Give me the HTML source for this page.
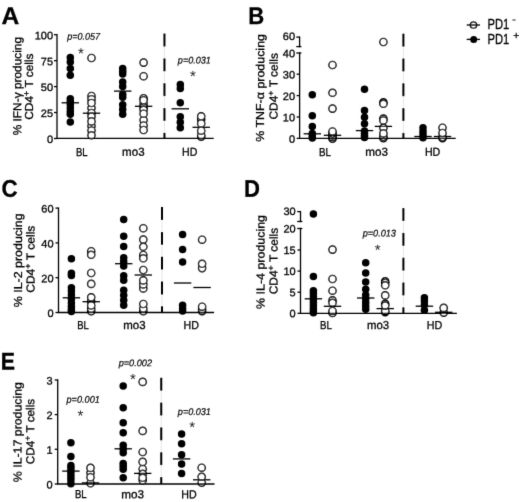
<!DOCTYPE html>
<html><head><meta charset="utf-8"><title>Figure</title>
<style>
html,body{margin:0;padding:0;background:#fff;}
svg{display:block;font-family:"Liberation Sans", sans-serif;fill:#000;}
</style></head><body>
<svg width="520" height="502" viewBox="0 0 520 502">
<defs><filter id="soft" x="0" y="0" width="520" height="502" filterUnits="userSpaceOnUse"><feConvolveMatrix order="3" kernelMatrix="1 8 1 8 64 8 1 8 1" divisor="100" edgeMode="duplicate" preserveAlpha="false"/></filter></defs>
<rect width="520" height="502" fill="#fff"/>
<g filter="url(#soft)">
<line x1="164.45" y1="33.60" x2="164.45" y2="138.40" stroke="#ccc" stroke-width="0.5" />
<line x1="164.45" y1="33.60" x2="164.45" y2="46.50" stroke="#000" stroke-width="2.0" />
<line x1="164.45" y1="58.40" x2="164.45" y2="71.30" stroke="#000" stroke-width="2.0" />
<line x1="164.45" y1="83.20" x2="164.45" y2="96.10" stroke="#000" stroke-width="2.0" />
<line x1="164.45" y1="108.00" x2="164.45" y2="120.90" stroke="#000" stroke-width="2.0" />
<line x1="164.45" y1="132.80" x2="164.45" y2="138.40" stroke="#000" stroke-width="2.0" />
<circle cx="70.30" cy="57.40" r="3.75" fill="#000"/>
<circle cx="70.30" cy="62.00" r="3.75" fill="#000"/>
<circle cx="70.30" cy="68.40" r="3.75" fill="#000"/>
<circle cx="70.30" cy="75.20" r="3.75" fill="#000"/>
<circle cx="70.30" cy="98.70" r="3.75" fill="#000"/>
<circle cx="70.30" cy="101.50" r="3.75" fill="#000"/>
<circle cx="70.30" cy="104.50" r="3.75" fill="#000"/>
<circle cx="70.30" cy="108.00" r="3.75" fill="#000"/>
<circle cx="70.30" cy="111.50" r="3.75" fill="#000"/>
<circle cx="70.30" cy="114.20" r="3.75" fill="#000"/>
<circle cx="70.30" cy="122.00" r="3.75" fill="#000"/>
<circle cx="91.50" cy="58.00" r="3.6" fill="#fff" stroke="#000" stroke-width="1.4"/>
<circle cx="91.50" cy="96.00" r="3.6" fill="#fff" stroke="#000" stroke-width="1.4"/>
<circle cx="91.50" cy="99.20" r="3.6" fill="#fff" stroke="#000" stroke-width="1.4"/>
<circle cx="91.50" cy="108.00" r="3.6" fill="#fff" stroke="#000" stroke-width="1.4"/>
<circle cx="91.50" cy="113.00" r="3.6" fill="#fff" stroke="#000" stroke-width="1.4"/>
<circle cx="91.50" cy="116.60" r="3.6" fill="#fff" stroke="#000" stroke-width="1.4"/>
<circle cx="91.50" cy="126.00" r="3.6" fill="#fff" stroke="#000" stroke-width="1.4"/>
<circle cx="91.50" cy="130.50" r="3.6" fill="#fff" stroke="#000" stroke-width="1.4"/>
<circle cx="91.50" cy="103.00" r="3.6" fill="#fff" stroke="#000" stroke-width="1.4"/>
<circle cx="91.50" cy="121.40" r="3.6" fill="#fff" stroke="#000" stroke-width="1.4"/>
<circle cx="91.50" cy="135.30" r="3.6" fill="#fff" stroke="#000" stroke-width="1.4"/>
<circle cx="122.70" cy="68.40" r="3.75" fill="#000"/>
<circle cx="122.70" cy="71.30" r="3.75" fill="#000"/>
<circle cx="122.70" cy="74.10" r="3.75" fill="#000"/>
<circle cx="122.70" cy="81.90" r="3.75" fill="#000"/>
<circle cx="122.70" cy="86.40" r="3.75" fill="#000"/>
<circle cx="122.70" cy="94.30" r="3.75" fill="#000"/>
<circle cx="122.70" cy="97.20" r="3.75" fill="#000"/>
<circle cx="122.70" cy="104.80" r="3.75" fill="#000"/>
<circle cx="122.70" cy="109.50" r="3.75" fill="#000"/>
<circle cx="122.70" cy="114.30" r="3.75" fill="#000"/>
<circle cx="143.60" cy="62.60" r="3.6" fill="#fff" stroke="#000" stroke-width="1.4"/>
<circle cx="143.60" cy="76.20" r="3.6" fill="#fff" stroke="#000" stroke-width="1.4"/>
<circle cx="143.60" cy="98.20" r="3.6" fill="#fff" stroke="#000" stroke-width="1.4"/>
<circle cx="143.60" cy="104.00" r="3.6" fill="#fff" stroke="#000" stroke-width="1.4"/>
<circle cx="143.60" cy="107.20" r="3.6" fill="#fff" stroke="#000" stroke-width="1.4"/>
<circle cx="143.60" cy="109.80" r="3.6" fill="#fff" stroke="#000" stroke-width="1.4"/>
<circle cx="143.60" cy="120.10" r="3.6" fill="#fff" stroke="#000" stroke-width="1.4"/>
<circle cx="143.60" cy="125.50" r="3.6" fill="#fff" stroke="#000" stroke-width="1.4"/>
<circle cx="143.60" cy="100.20" r="3.6" fill="#fff" stroke="#000" stroke-width="1.4"/>
<circle cx="143.60" cy="113.70" r="3.6" fill="#fff" stroke="#000" stroke-width="1.4"/>
<circle cx="143.60" cy="130.00" r="3.6" fill="#fff" stroke="#000" stroke-width="1.4"/>
<circle cx="180.30" cy="84.40" r="3.75" fill="#000"/>
<circle cx="180.30" cy="88.50" r="3.75" fill="#000"/>
<circle cx="180.30" cy="102.70" r="3.75" fill="#000"/>
<circle cx="180.30" cy="116.80" r="3.75" fill="#000"/>
<circle cx="180.30" cy="122.20" r="3.75" fill="#000"/>
<circle cx="180.30" cy="127.80" r="3.75" fill="#000"/>
<circle cx="201.20" cy="136.80" r="3.6" fill="#fff" stroke="#000" stroke-width="1.4"/>
<circle cx="201.20" cy="135.20" r="3.6" fill="#fff" stroke="#000" stroke-width="1.4"/>
<circle cx="201.20" cy="119.60" r="3.6" fill="#fff" stroke="#000" stroke-width="1.4"/>
<circle cx="201.20" cy="116.30" r="3.6" fill="#fff" stroke="#000" stroke-width="1.4"/>
<circle cx="201.20" cy="130.70" r="3.6" fill="#fff" stroke="#000" stroke-width="1.4"/>
<circle cx="201.20" cy="123.50" r="3.6" fill="#fff" stroke="#000" stroke-width="1.4"/>
<line x1="56.35" y1="138.40" x2="213.70" y2="138.40" stroke="#000" stroke-width="1.3" />
<line x1="57.00" y1="34.05" x2="57.00" y2="138.40" stroke="#000" stroke-width="1.3" />
<line x1="54.00" y1="138.50" x2="57.00" y2="138.50" stroke="#000" stroke-width="1.3" />
<text transform="translate(46.99,143.00) rotate(0.03) scale(1.0200,1)" font-size="10.8" stroke="#000" stroke-width="0.3">0</text>
<line x1="54.00" y1="112.55" x2="57.00" y2="112.55" stroke="#000" stroke-width="1.3" />
<text transform="translate(40.87,117.05) rotate(0.03) scale(1.0200,1)" font-size="10.8" stroke="#000" stroke-width="0.3">25</text>
<line x1="54.00" y1="86.60" x2="57.00" y2="86.60" stroke="#000" stroke-width="1.3" />
<text transform="translate(40.87,91.10) rotate(0.03) scale(1.0200,1)" font-size="10.8" stroke="#000" stroke-width="0.3">50</text>
<line x1="54.00" y1="60.65" x2="57.00" y2="60.65" stroke="#000" stroke-width="1.3" />
<text transform="translate(40.87,65.15) rotate(0.03) scale(1.0200,1)" font-size="10.8" stroke="#000" stroke-width="0.3">75</text>
<line x1="54.00" y1="34.70" x2="57.00" y2="34.70" stroke="#000" stroke-width="1.3" />
<text transform="translate(34.70,39.20) rotate(0.03) scale(1.0200,1)" font-size="10.8" stroke="#000" stroke-width="0.3">100</text>
<line x1="61.60" y1="102.80" x2="79.00" y2="102.80" stroke="#000" stroke-width="1.3" />
<line x1="82.80" y1="113.20" x2="100.20" y2="113.20" stroke="#000" stroke-width="1.3" />
<line x1="114.00" y1="91.10" x2="131.40" y2="91.10" stroke="#000" stroke-width="1.3" />
<line x1="134.90" y1="106.30" x2="152.30" y2="106.30" stroke="#000" stroke-width="1.3" />
<line x1="171.60" y1="108.80" x2="189.00" y2="108.80" stroke="#000" stroke-width="1.3" />
<line x1="192.50" y1="127.30" x2="209.90" y2="127.30" stroke="#000" stroke-width="1.3" />
<text transform="translate(76.00,155.80) rotate(0.03) scale(0.8234,1)" font-size="11.6" stroke="#000" stroke-width="0.3">BL</text>
<text transform="translate(122.10,155.80) rotate(0.03) scale(0.9973,1)" font-size="11.6" stroke="#000" stroke-width="0.3">mo3</text>
<text transform="translate(182.10,155.80) rotate(0.03) scale(0.9128,1)" font-size="11.6" stroke="#000" stroke-width="0.3">HD</text>
<text transform="translate(67.13,39.80) rotate(0.03) scale(0.9211,1)" font-size="9.8" font-style="italic" stroke="#000" stroke-width="0.2">p=0.057</text>
<text transform="translate(177.83,63.50) rotate(0.03) scale(0.9287,1)" font-size="9.8" font-style="italic" stroke="#000" stroke-width="0.2">p=0.031</text>
<text transform="translate(77.91,58.56) rotate(0.03)" font-size="15.0" fill="#222">*</text>
<text transform="translate(190.11,81.36) rotate(0.03)" font-size="15.0" fill="#222">*</text>
<text transform="translate(1.40,24.00) rotate(0.03) scale(1.0243,1)" font-size="24" font-weight="bold" stroke="#000" stroke-width="0.3">A</text>
<g transform="translate(21.30,135.30) rotate(-89.97) scale(1.0255,1)"><text x="0.00" y="0.00" font-size="11.6" stroke="#000" stroke-width="0.3">% IFN-γ producing</text></g>
<g transform="translate(33.00,119.70) rotate(-89.97) scale(1.0236,1)"><text x="0.00" y="0.00" font-size="11.6" stroke="#000" stroke-width="0.3">CD4</text><text x="23.21" y="-3.80" font-size="8.5" stroke="#000" stroke-width="0.3">+</text><text x="31.39" y="0.00" font-size="11.6" stroke="#000" stroke-width="0.3">T cells</text></g>
<line x1="403.40" y1="33.70" x2="403.40" y2="138.40" stroke="#ccc" stroke-width="0.5" />
<line x1="403.40" y1="33.70" x2="403.40" y2="46.60" stroke="#000" stroke-width="2.0" />
<line x1="403.40" y1="58.50" x2="403.40" y2="71.40" stroke="#000" stroke-width="2.0" />
<line x1="403.40" y1="83.30" x2="403.40" y2="96.20" stroke="#000" stroke-width="2.0" />
<line x1="403.40" y1="108.10" x2="403.40" y2="121.00" stroke="#000" stroke-width="2.0" />
<line x1="403.40" y1="132.90" x2="403.40" y2="138.40" stroke="#000" stroke-width="2.0" />
<circle cx="312.30" cy="94.80" r="3.75" fill="#000"/>
<circle cx="312.30" cy="115.70" r="3.75" fill="#000"/>
<circle cx="312.30" cy="126.60" r="3.75" fill="#000"/>
<circle cx="312.30" cy="133.40" r="3.75" fill="#000"/>
<circle cx="312.30" cy="135.80" r="3.75" fill="#000"/>
<circle cx="312.30" cy="138.00" r="3.75" fill="#000"/>
<circle cx="332.50" cy="65.00" r="3.6" fill="#fff" stroke="#000" stroke-width="1.4"/>
<circle cx="332.50" cy="92.80" r="3.6" fill="#fff" stroke="#000" stroke-width="1.4"/>
<circle cx="332.50" cy="108.60" r="3.6" fill="#fff" stroke="#000" stroke-width="1.4"/>
<circle cx="332.50" cy="138.80" r="3.6" fill="#fff" stroke="#000" stroke-width="1.4"/>
<circle cx="332.50" cy="137.30" r="3.6" fill="#fff" stroke="#000" stroke-width="1.4"/>
<circle cx="332.50" cy="135.50" r="3.6" fill="#fff" stroke="#000" stroke-width="1.4"/>
<circle cx="332.50" cy="133.50" r="3.6" fill="#fff" stroke="#000" stroke-width="1.4"/>
<circle cx="332.50" cy="131.50" r="3.6" fill="#fff" stroke="#000" stroke-width="1.4"/>
<circle cx="364.50" cy="89.30" r="3.75" fill="#000"/>
<circle cx="364.50" cy="110.50" r="3.75" fill="#000"/>
<circle cx="364.50" cy="117.20" r="3.75" fill="#000"/>
<circle cx="364.50" cy="123.70" r="3.75" fill="#000"/>
<circle cx="364.50" cy="131.10" r="3.75" fill="#000"/>
<circle cx="364.50" cy="133.50" r="3.75" fill="#000"/>
<circle cx="364.50" cy="135.80" r="3.75" fill="#000"/>
<circle cx="364.50" cy="137.60" r="3.75" fill="#000"/>
<circle cx="383.40" cy="42.00" r="3.6" fill="#fff" stroke="#000" stroke-width="1.4"/>
<circle cx="383.40" cy="102.30" r="3.6" fill="#fff" stroke="#000" stroke-width="1.4"/>
<circle cx="383.40" cy="103.80" r="3.6" fill="#fff" stroke="#000" stroke-width="1.4"/>
<circle cx="383.40" cy="118.60" r="3.6" fill="#fff" stroke="#000" stroke-width="1.4"/>
<circle cx="383.40" cy="120.50" r="3.6" fill="#fff" stroke="#000" stroke-width="1.4"/>
<circle cx="383.40" cy="138.30" r="3.6" fill="#fff" stroke="#000" stroke-width="1.4"/>
<circle cx="383.40" cy="136.80" r="3.6" fill="#fff" stroke="#000" stroke-width="1.4"/>
<circle cx="383.40" cy="127.90" r="3.6" fill="#fff" stroke="#000" stroke-width="1.4"/>
<circle cx="383.40" cy="133.40" r="3.6" fill="#fff" stroke="#000" stroke-width="1.4"/>
<circle cx="423.00" cy="127.80" r="3.75" fill="#000"/>
<circle cx="423.00" cy="131.50" r="3.75" fill="#000"/>
<circle cx="423.00" cy="134.80" r="3.75" fill="#000"/>
<circle cx="423.00" cy="137.70" r="3.75" fill="#000"/>
<circle cx="442.50" cy="127.70" r="3.6" fill="#fff" stroke="#000" stroke-width="1.4"/>
<circle cx="442.50" cy="138.30" r="3.6" fill="#fff" stroke="#000" stroke-width="1.4"/>
<circle cx="442.50" cy="137.00" r="3.6" fill="#fff" stroke="#000" stroke-width="1.4"/>
<circle cx="442.50" cy="133.00" r="3.6" fill="#fff" stroke="#000" stroke-width="1.4"/>
<line x1="298.95" y1="138.40" x2="455.70" y2="138.40" stroke="#000" stroke-width="1.3" />
<line x1="299.60" y1="36.45" x2="299.60" y2="47.25" stroke="#000" stroke-width="1.3" />
<line x1="296.30" y1="37.10" x2="299.60" y2="37.10" stroke="#000" stroke-width="1.3" />
<line x1="296.30" y1="46.60" x2="301.40" y2="46.60" stroke="#000" stroke-width="1.3" />
<line x1="299.60" y1="52.35" x2="299.60" y2="138.40" stroke="#000" stroke-width="1.3" />
<line x1="296.60" y1="138.40" x2="299.60" y2="138.40" stroke="#000" stroke-width="1.3" />
<text transform="translate(288.99,142.70) rotate(0.03) scale(1.0200,1)" font-size="10.8" stroke="#000" stroke-width="0.3">0</text>
<line x1="296.60" y1="117.00" x2="299.60" y2="117.00" stroke="#000" stroke-width="1.3" />
<text transform="translate(282.87,121.30) rotate(0.03) scale(1.0200,1)" font-size="10.8" stroke="#000" stroke-width="0.3">10</text>
<line x1="296.60" y1="95.60" x2="299.60" y2="95.60" stroke="#000" stroke-width="1.3" />
<text transform="translate(282.87,99.90) rotate(0.03) scale(1.0200,1)" font-size="10.8" stroke="#000" stroke-width="0.3">20</text>
<line x1="296.60" y1="74.20" x2="299.60" y2="74.20" stroke="#000" stroke-width="1.3" />
<text transform="translate(282.87,78.50) rotate(0.03) scale(1.0200,1)" font-size="10.8" stroke="#000" stroke-width="0.3">30</text>
<line x1="296.30" y1="53.00" x2="301.40" y2="53.00" stroke="#000" stroke-width="1.3" />
<text transform="translate(282.87,57.30) rotate(0.03) scale(1.0200,1)" font-size="10.8" stroke="#000" stroke-width="0.3">40</text>
<text transform="translate(282.87,40.10) rotate(0.03) scale(1.0200,1)" font-size="10.8" stroke="#000" stroke-width="0.3">60</text>
<line x1="303.60" y1="133.80" x2="321.00" y2="133.80" stroke="#000" stroke-width="1.3" />
<line x1="323.80" y1="135.30" x2="341.20" y2="135.30" stroke="#000" stroke-width="1.3" />
<line x1="355.80" y1="130.60" x2="373.20" y2="130.60" stroke="#000" stroke-width="1.3" />
<line x1="374.70" y1="126.40" x2="392.10" y2="126.40" stroke="#000" stroke-width="1.3" />
<line x1="414.30" y1="136.50" x2="431.70" y2="136.50" stroke="#000" stroke-width="1.3" />
<line x1="433.80" y1="136.50" x2="451.20" y2="136.50" stroke="#000" stroke-width="1.3" />
<text transform="translate(319.00,155.80) rotate(0.03) scale(0.8445,1)" font-size="11.6" stroke="#000" stroke-width="0.3">BL</text>
<text transform="translate(365.20,155.80) rotate(0.03) scale(1.0061,1)" font-size="11.6" stroke="#000" stroke-width="0.3">mo3</text>
<text transform="translate(424.90,155.80) rotate(0.03) scale(0.9187,1)" font-size="11.6" stroke="#000" stroke-width="0.3">HD</text>
<text transform="translate(248.30,24.00) rotate(0.03) scale(0.9201,1)" font-size="24" font-weight="bold" stroke="#000" stroke-width="0.3">B</text>
<g transform="translate(264.10,141.80) rotate(-89.97) scale(1.0713,1)"><text x="0.00" y="0.00" font-size="11.6" stroke="#000" stroke-width="0.3">% TNF-α producing</text></g>
<g transform="translate(277.60,119.50) rotate(-89.97) scale(1.0267,1)"><text x="0.00" y="0.00" font-size="11.6" stroke="#000" stroke-width="0.3">CD4</text><text x="23.21" y="-3.80" font-size="8.5" stroke="#000" stroke-width="0.3">+</text><text x="31.39" y="0.00" font-size="11.6" stroke="#000" stroke-width="0.3">T cells</text></g>
<line x1="162.00" y1="207.10" x2="162.00" y2="312.50" stroke="#ccc" stroke-width="0.5" />
<line x1="162.00" y1="207.10" x2="162.00" y2="220.00" stroke="#000" stroke-width="2.0" />
<line x1="162.00" y1="231.90" x2="162.00" y2="244.80" stroke="#000" stroke-width="2.0" />
<line x1="162.00" y1="256.70" x2="162.00" y2="269.60" stroke="#000" stroke-width="2.0" />
<line x1="162.00" y1="281.50" x2="162.00" y2="294.40" stroke="#000" stroke-width="2.0" />
<line x1="162.00" y1="306.30" x2="162.00" y2="312.50" stroke="#000" stroke-width="2.0" />
<circle cx="71.40" cy="258.80" r="3.75" fill="#000"/>
<circle cx="71.40" cy="273.20" r="3.75" fill="#000"/>
<circle cx="71.40" cy="275.50" r="3.75" fill="#000"/>
<circle cx="71.40" cy="287.80" r="3.75" fill="#000"/>
<circle cx="71.40" cy="291.00" r="3.75" fill="#000"/>
<circle cx="71.40" cy="295.00" r="3.75" fill="#000"/>
<circle cx="71.40" cy="299.00" r="3.75" fill="#000"/>
<circle cx="71.40" cy="303.00" r="3.75" fill="#000"/>
<circle cx="71.40" cy="306.50" r="3.75" fill="#000"/>
<circle cx="71.40" cy="309.40" r="3.75" fill="#000"/>
<circle cx="71.40" cy="311.60" r="3.75" fill="#000"/>
<circle cx="91.20" cy="251.20" r="3.6" fill="#fff" stroke="#000" stroke-width="1.4"/>
<circle cx="91.20" cy="254.80" r="3.6" fill="#fff" stroke="#000" stroke-width="1.4"/>
<circle cx="91.20" cy="273.00" r="3.6" fill="#fff" stroke="#000" stroke-width="1.4"/>
<circle cx="91.20" cy="283.90" r="3.6" fill="#fff" stroke="#000" stroke-width="1.4"/>
<circle cx="91.20" cy="311.20" r="3.6" fill="#fff" stroke="#000" stroke-width="1.4"/>
<circle cx="91.20" cy="308.80" r="3.6" fill="#fff" stroke="#000" stroke-width="1.4"/>
<circle cx="91.20" cy="301.40" r="3.6" fill="#fff" stroke="#000" stroke-width="1.4"/>
<circle cx="91.20" cy="305.50" r="3.6" fill="#fff" stroke="#000" stroke-width="1.4"/>
<circle cx="91.20" cy="297.30" r="3.6" fill="#fff" stroke="#000" stroke-width="1.4"/>
<circle cx="123.70" cy="219.60" r="3.75" fill="#000"/>
<circle cx="123.70" cy="236.30" r="3.75" fill="#000"/>
<circle cx="123.70" cy="246.40" r="3.75" fill="#000"/>
<circle cx="123.70" cy="257.70" r="3.75" fill="#000"/>
<circle cx="123.70" cy="261.50" r="3.75" fill="#000"/>
<circle cx="123.70" cy="266.00" r="3.75" fill="#000"/>
<circle cx="123.70" cy="275.70" r="3.75" fill="#000"/>
<circle cx="123.70" cy="280.20" r="3.75" fill="#000"/>
<circle cx="123.70" cy="290.30" r="3.75" fill="#000"/>
<circle cx="123.70" cy="295.30" r="3.75" fill="#000"/>
<circle cx="123.70" cy="300.30" r="3.75" fill="#000"/>
<circle cx="123.70" cy="305.30" r="3.75" fill="#000"/>
<circle cx="143.30" cy="228.20" r="3.6" fill="#fff" stroke="#000" stroke-width="1.4"/>
<circle cx="143.30" cy="239.60" r="3.6" fill="#fff" stroke="#000" stroke-width="1.4"/>
<circle cx="143.30" cy="246.80" r="3.6" fill="#fff" stroke="#000" stroke-width="1.4"/>
<circle cx="143.30" cy="255.00" r="3.6" fill="#fff" stroke="#000" stroke-width="1.4"/>
<circle cx="143.30" cy="258.30" r="3.6" fill="#fff" stroke="#000" stroke-width="1.4"/>
<circle cx="143.30" cy="270.00" r="3.6" fill="#fff" stroke="#000" stroke-width="1.4"/>
<circle cx="143.30" cy="311.30" r="3.6" fill="#fff" stroke="#000" stroke-width="1.4"/>
<circle cx="143.30" cy="308.50" r="3.6" fill="#fff" stroke="#000" stroke-width="1.4"/>
<circle cx="143.30" cy="304.00" r="3.6" fill="#fff" stroke="#000" stroke-width="1.4"/>
<circle cx="143.30" cy="288.40" r="3.6" fill="#fff" stroke="#000" stroke-width="1.4"/>
<circle cx="143.30" cy="284.40" r="3.6" fill="#fff" stroke="#000" stroke-width="1.4"/>
<circle cx="143.30" cy="280.40" r="3.6" fill="#fff" stroke="#000" stroke-width="1.4"/>
<circle cx="182.60" cy="234.60" r="3.75" fill="#000"/>
<circle cx="182.60" cy="249.50" r="3.75" fill="#000"/>
<circle cx="182.60" cy="261.90" r="3.75" fill="#000"/>
<circle cx="182.60" cy="305.30" r="3.75" fill="#000"/>
<circle cx="182.60" cy="308.50" r="3.75" fill="#000"/>
<circle cx="182.60" cy="311.00" r="3.75" fill="#000"/>
<circle cx="202.10" cy="239.70" r="3.6" fill="#fff" stroke="#000" stroke-width="1.4"/>
<circle cx="202.10" cy="268.10" r="3.6" fill="#fff" stroke="#000" stroke-width="1.4"/>
<circle cx="202.10" cy="263.80" r="3.6" fill="#fff" stroke="#000" stroke-width="1.4"/>
<circle cx="202.10" cy="311.10" r="3.6" fill="#fff" stroke="#000" stroke-width="1.4"/>
<circle cx="202.10" cy="309.30" r="3.6" fill="#fff" stroke="#000" stroke-width="1.4"/>
<circle cx="202.10" cy="306.70" r="3.6" fill="#fff" stroke="#000" stroke-width="1.4"/>
<line x1="57.85" y1="312.50" x2="214.10" y2="312.50" stroke="#000" stroke-width="1.3" />
<line x1="58.50" y1="207.45" x2="58.50" y2="312.50" stroke="#000" stroke-width="1.3" />
<line x1="55.50" y1="312.50" x2="58.50" y2="312.50" stroke="#000" stroke-width="1.3" />
<text transform="translate(47.39,317.00) rotate(0.03) scale(1.0200,1)" font-size="10.8" stroke="#000" stroke-width="0.3">0</text>
<line x1="55.50" y1="277.70" x2="58.50" y2="277.70" stroke="#000" stroke-width="1.3" />
<text transform="translate(41.27,282.20) rotate(0.03) scale(1.0200,1)" font-size="10.8" stroke="#000" stroke-width="0.3">20</text>
<line x1="55.50" y1="242.90" x2="58.50" y2="242.90" stroke="#000" stroke-width="1.3" />
<text transform="translate(41.27,247.40) rotate(0.03) scale(1.0200,1)" font-size="10.8" stroke="#000" stroke-width="0.3">40</text>
<line x1="55.50" y1="208.10" x2="58.50" y2="208.10" stroke="#000" stroke-width="1.3" />
<text transform="translate(41.27,212.60) rotate(0.03) scale(1.0200,1)" font-size="10.8" stroke="#000" stroke-width="0.3">60</text>
<line x1="62.70" y1="297.80" x2="80.10" y2="297.80" stroke="#000" stroke-width="1.3" />
<line x1="82.50" y1="301.70" x2="99.90" y2="301.70" stroke="#000" stroke-width="1.3" />
<line x1="115.00" y1="263.70" x2="132.40" y2="263.70" stroke="#000" stroke-width="1.3" />
<line x1="134.60" y1="275.00" x2="152.00" y2="275.00" stroke="#000" stroke-width="1.3" />
<line x1="173.90" y1="283.00" x2="191.30" y2="283.00" stroke="#000" stroke-width="1.3" />
<line x1="193.40" y1="287.50" x2="210.80" y2="287.50" stroke="#000" stroke-width="1.3" />
<text transform="translate(77.20,328.90) rotate(0.03) scale(0.8163,1)" font-size="11.6" stroke="#000" stroke-width="0.3">BL</text>
<text transform="translate(123.30,328.90) rotate(0.03) scale(0.9884,1)" font-size="11.6" stroke="#000" stroke-width="0.3">mo3</text>
<text transform="translate(183.60,328.90) rotate(0.03) scale(0.9187,1)" font-size="11.6" stroke="#000" stroke-width="0.3">HD</text>
<text transform="translate(1.40,196.80) rotate(0.03) scale(0.9317,1)" font-size="24" font-weight="bold" stroke="#000" stroke-width="0.3">C</text>
<g transform="translate(21.90,307.30) rotate(-89.97) scale(1.0719,1)"><text x="0.00" y="0.00" font-size="11.6" stroke="#000" stroke-width="0.3">% IL-2 producing</text></g>
<g transform="translate(34.50,292.80) rotate(-89.97) scale(1.0391,1)"><text x="0.00" y="0.00" font-size="11.6" stroke="#000" stroke-width="0.3">CD4</text><text x="23.21" y="-3.80" font-size="8.5" stroke="#000" stroke-width="0.3">+</text><text x="31.39" y="0.00" font-size="11.6" stroke="#000" stroke-width="0.3">T cells</text></g>
<line x1="403.40" y1="208.10" x2="403.40" y2="313.30" stroke="#ccc" stroke-width="0.5" />
<line x1="403.40" y1="208.10" x2="403.40" y2="221.00" stroke="#000" stroke-width="2.0" />
<line x1="403.40" y1="232.90" x2="403.40" y2="245.80" stroke="#000" stroke-width="2.0" />
<line x1="403.40" y1="257.70" x2="403.40" y2="270.60" stroke="#000" stroke-width="2.0" />
<line x1="403.40" y1="282.50" x2="403.40" y2="295.40" stroke="#000" stroke-width="2.0" />
<line x1="403.40" y1="307.30" x2="403.40" y2="313.30" stroke="#000" stroke-width="2.0" />
<circle cx="313.40" cy="214.10" r="3.75" fill="#000"/>
<circle cx="313.40" cy="276.50" r="3.75" fill="#000"/>
<circle cx="313.40" cy="290.70" r="3.75" fill="#000"/>
<circle cx="313.40" cy="293.50" r="3.75" fill="#000"/>
<circle cx="313.40" cy="296.50" r="3.75" fill="#000"/>
<circle cx="313.40" cy="299.50" r="3.75" fill="#000"/>
<circle cx="313.40" cy="302.50" r="3.75" fill="#000"/>
<circle cx="313.40" cy="305.50" r="3.75" fill="#000"/>
<circle cx="313.40" cy="308.50" r="3.75" fill="#000"/>
<circle cx="313.40" cy="311.00" r="3.75" fill="#000"/>
<circle cx="313.40" cy="312.70" r="3.75" fill="#000"/>
<circle cx="332.50" cy="249.60" r="3.6" fill="#fff" stroke="#000" stroke-width="1.4"/>
<circle cx="332.50" cy="279.00" r="3.6" fill="#fff" stroke="#000" stroke-width="1.4"/>
<circle cx="332.50" cy="290.70" r="3.6" fill="#fff" stroke="#000" stroke-width="1.4"/>
<circle cx="332.50" cy="300.30" r="3.6" fill="#fff" stroke="#000" stroke-width="1.4"/>
<circle cx="332.50" cy="313.00" r="3.6" fill="#fff" stroke="#000" stroke-width="1.4"/>
<circle cx="332.50" cy="302.80" r="3.6" fill="#fff" stroke="#000" stroke-width="1.4"/>
<circle cx="332.50" cy="311.00" r="3.6" fill="#fff" stroke="#000" stroke-width="1.4"/>
<circle cx="365.70" cy="262.80" r="3.75" fill="#000"/>
<circle cx="365.70" cy="273.00" r="3.75" fill="#000"/>
<circle cx="365.70" cy="282.10" r="3.75" fill="#000"/>
<circle cx="365.70" cy="289.30" r="3.75" fill="#000"/>
<circle cx="365.70" cy="295.00" r="3.75" fill="#000"/>
<circle cx="365.70" cy="298.70" r="3.75" fill="#000"/>
<circle cx="365.70" cy="302.50" r="3.75" fill="#000"/>
<circle cx="365.70" cy="306.00" r="3.75" fill="#000"/>
<circle cx="365.70" cy="309.20" r="3.75" fill="#000"/>
<circle cx="385.20" cy="281.30" r="3.6" fill="#fff" stroke="#000" stroke-width="1.4"/>
<circle cx="385.20" cy="283.00" r="3.6" fill="#fff" stroke="#000" stroke-width="1.4"/>
<circle cx="385.20" cy="285.30" r="3.6" fill="#fff" stroke="#000" stroke-width="1.4"/>
<circle cx="385.20" cy="295.40" r="3.6" fill="#fff" stroke="#000" stroke-width="1.4"/>
<circle cx="385.20" cy="303.80" r="3.6" fill="#fff" stroke="#000" stroke-width="1.4"/>
<circle cx="385.20" cy="312.20" r="3.6" fill="#fff" stroke="#000" stroke-width="1.4"/>
<circle cx="385.20" cy="311.00" r="3.6" fill="#fff" stroke="#000" stroke-width="1.4"/>
<circle cx="385.20" cy="305.60" r="3.6" fill="#fff" stroke="#000" stroke-width="1.4"/>
<circle cx="424.40" cy="297.70" r="3.75" fill="#000"/>
<circle cx="424.40" cy="301.00" r="3.75" fill="#000"/>
<circle cx="424.40" cy="305.00" r="3.75" fill="#000"/>
<circle cx="424.40" cy="310.20" r="3.75" fill="#000"/>
<circle cx="443.70" cy="312.60" r="3.6" fill="#fff" stroke="#000" stroke-width="1.4"/>
<circle cx="443.70" cy="307.90" r="3.6" fill="#fff" stroke="#000" stroke-width="1.4"/>
<line x1="299.85" y1="313.30" x2="456.90" y2="313.30" stroke="#000" stroke-width="1.3" />
<line x1="300.50" y1="210.95" x2="300.50" y2="222.15" stroke="#000" stroke-width="1.3" />
<line x1="297.20" y1="211.60" x2="300.50" y2="211.60" stroke="#000" stroke-width="1.3" />
<line x1="297.20" y1="221.50" x2="302.30" y2="221.50" stroke="#000" stroke-width="1.3" />
<line x1="300.50" y1="227.85" x2="300.50" y2="313.30" stroke="#000" stroke-width="1.3" />
<line x1="297.50" y1="313.30" x2="300.50" y2="313.30" stroke="#000" stroke-width="1.3" />
<text transform="translate(289.59,317.30) rotate(0.03) scale(1.0200,1)" font-size="10.8" stroke="#000" stroke-width="0.3">0</text>
<line x1="297.50" y1="292.20" x2="300.50" y2="292.20" stroke="#000" stroke-width="1.3" />
<text transform="translate(289.59,296.20) rotate(0.03) scale(1.0200,1)" font-size="10.8" stroke="#000" stroke-width="0.3">5</text>
<line x1="297.50" y1="271.10" x2="300.50" y2="271.10" stroke="#000" stroke-width="1.3" />
<text transform="translate(283.47,275.10) rotate(0.03) scale(1.0200,1)" font-size="10.8" stroke="#000" stroke-width="0.3">10</text>
<line x1="297.50" y1="250.00" x2="300.50" y2="250.00" stroke="#000" stroke-width="1.3" />
<text transform="translate(283.47,254.00) rotate(0.03) scale(1.0200,1)" font-size="10.8" stroke="#000" stroke-width="0.3">15</text>
<line x1="297.20" y1="228.50" x2="302.30" y2="228.50" stroke="#000" stroke-width="1.3" />
<text transform="translate(283.47,232.50) rotate(0.03) scale(1.0200,1)" font-size="10.8" stroke="#000" stroke-width="0.3">20</text>
<text transform="translate(283.47,215.10) rotate(0.03) scale(1.0200,1)" font-size="10.8" stroke="#000" stroke-width="0.3">30</text>
<line x1="304.70" y1="298.80" x2="322.10" y2="298.80" stroke="#000" stroke-width="1.3" />
<line x1="323.80" y1="306.30" x2="341.20" y2="306.30" stroke="#000" stroke-width="1.3" />
<line x1="357.00" y1="298.00" x2="374.40" y2="298.00" stroke="#000" stroke-width="1.3" />
<line x1="376.50" y1="308.60" x2="393.90" y2="308.60" stroke="#000" stroke-width="1.3" />
<line x1="415.70" y1="306.20" x2="433.10" y2="306.20" stroke="#000" stroke-width="1.3" />
<line x1="435.00" y1="312.30" x2="452.40" y2="312.30" stroke="#000" stroke-width="1.3" />
<text transform="translate(320.10,328.90) rotate(0.03) scale(0.8374,1)" font-size="11.6" stroke="#000" stroke-width="0.3">BL</text>
<text transform="translate(367.00,328.90) rotate(0.03) scale(0.9840,1)" font-size="11.6" stroke="#000" stroke-width="0.3">mo3</text>
<text transform="translate(426.70,328.90) rotate(0.03) scale(0.9247,1)" font-size="11.6" stroke="#000" stroke-width="0.3">HD</text>
<text transform="translate(362.63,236.60) rotate(0.03) scale(0.9342,1)" font-size="9.8" font-style="italic" stroke="#000" stroke-width="0.2">p=0.013</text>
<text transform="translate(374.81,254.96) rotate(0.03)" font-size="15.0" fill="#222">*</text>
<text transform="translate(244.10,196.80) rotate(0.03) scale(0.9201,1)" font-size="24" font-weight="bold" stroke="#000" stroke-width="0.3">D</text>
<g transform="translate(264.50,309.00) rotate(-89.97) scale(1.0742,1)"><text x="0.00" y="0.00" font-size="11.6" stroke="#000" stroke-width="0.3">% IL-4 producing</text></g>
<g transform="translate(277.60,294.30) rotate(-89.97) scale(1.0283,1)"><text x="0.00" y="0.00" font-size="11.6" stroke="#000" stroke-width="0.3">CD4</text><text x="23.21" y="-3.80" font-size="8.5" stroke="#000" stroke-width="0.3">+</text><text x="31.39" y="0.00" font-size="11.6" stroke="#000" stroke-width="0.3">T cells</text></g>
<line x1="161.25" y1="377.80" x2="161.25" y2="484.00" stroke="#ccc" stroke-width="0.5" />
<line x1="161.25" y1="377.80" x2="161.25" y2="390.70" stroke="#000" stroke-width="2.0" />
<line x1="161.25" y1="402.60" x2="161.25" y2="415.50" stroke="#000" stroke-width="2.0" />
<line x1="161.25" y1="427.40" x2="161.25" y2="440.30" stroke="#000" stroke-width="2.0" />
<line x1="161.25" y1="452.20" x2="161.25" y2="465.10" stroke="#000" stroke-width="2.0" />
<line x1="161.25" y1="477.00" x2="161.25" y2="484.00" stroke="#000" stroke-width="2.0" />
<circle cx="70.90" cy="442.80" r="3.75" fill="#000"/>
<circle cx="70.90" cy="456.40" r="3.75" fill="#000"/>
<circle cx="70.90" cy="465.60" r="3.75" fill="#000"/>
<circle cx="70.90" cy="468.00" r="3.75" fill="#000"/>
<circle cx="70.90" cy="471.00" r="3.75" fill="#000"/>
<circle cx="70.90" cy="474.00" r="3.75" fill="#000"/>
<circle cx="70.90" cy="477.00" r="3.75" fill="#000"/>
<circle cx="70.90" cy="480.00" r="3.75" fill="#000"/>
<circle cx="70.90" cy="483.70" r="3.75" fill="#000"/>
<circle cx="90.50" cy="472.80" r="3.6" fill="#fff" stroke="#000" stroke-width="1.4"/>
<circle cx="90.50" cy="483.30" r="3.6" fill="#fff" stroke="#000" stroke-width="1.4"/>
<circle cx="90.50" cy="467.90" r="3.6" fill="#fff" stroke="#000" stroke-width="1.4"/>
<circle cx="90.50" cy="477.20" r="3.6" fill="#fff" stroke="#000" stroke-width="1.4"/>
<circle cx="123.20" cy="386.00" r="3.75" fill="#000"/>
<circle cx="123.20" cy="407.80" r="3.75" fill="#000"/>
<circle cx="123.20" cy="422.80" r="3.75" fill="#000"/>
<circle cx="123.20" cy="432.80" r="3.75" fill="#000"/>
<circle cx="123.20" cy="445.30" r="3.75" fill="#000"/>
<circle cx="123.20" cy="449.00" r="3.75" fill="#000"/>
<circle cx="123.20" cy="452.70" r="3.75" fill="#000"/>
<circle cx="123.20" cy="463.40" r="3.75" fill="#000"/>
<circle cx="123.20" cy="466.30" r="3.75" fill="#000"/>
<circle cx="123.20" cy="469.20" r="3.75" fill="#000"/>
<circle cx="123.20" cy="477.80" r="3.75" fill="#000"/>
<circle cx="142.70" cy="381.90" r="3.6" fill="#fff" stroke="#000" stroke-width="1.4"/>
<circle cx="142.70" cy="430.90" r="3.6" fill="#fff" stroke="#000" stroke-width="1.4"/>
<circle cx="142.70" cy="452.00" r="3.6" fill="#fff" stroke="#000" stroke-width="1.4"/>
<circle cx="142.70" cy="469.00" r="3.6" fill="#fff" stroke="#000" stroke-width="1.4"/>
<circle cx="142.70" cy="473.80" r="3.6" fill="#fff" stroke="#000" stroke-width="1.4"/>
<circle cx="142.70" cy="480.30" r="3.6" fill="#fff" stroke="#000" stroke-width="1.4"/>
<circle cx="142.70" cy="461.90" r="3.6" fill="#fff" stroke="#000" stroke-width="1.4"/>
<circle cx="142.70" cy="477.80" r="3.6" fill="#fff" stroke="#000" stroke-width="1.4"/>
<circle cx="181.60" cy="434.10" r="3.75" fill="#000"/>
<circle cx="181.60" cy="443.80" r="3.75" fill="#000"/>
<circle cx="181.60" cy="454.80" r="3.75" fill="#000"/>
<circle cx="181.60" cy="463.90" r="3.75" fill="#000"/>
<circle cx="181.60" cy="473.60" r="3.75" fill="#000"/>
<circle cx="201.70" cy="482.70" r="3.6" fill="#fff" stroke="#000" stroke-width="1.4"/>
<circle cx="201.70" cy="476.80" r="3.6" fill="#fff" stroke="#000" stroke-width="1.4"/>
<circle cx="201.70" cy="467.70" r="3.6" fill="#fff" stroke="#000" stroke-width="1.4"/>
<line x1="57.05" y1="484.00" x2="214.50" y2="484.00" stroke="#000" stroke-width="1.3" />
<line x1="57.70" y1="379.35" x2="57.70" y2="484.00" stroke="#000" stroke-width="1.3" />
<line x1="54.70" y1="484.00" x2="57.70" y2="484.00" stroke="#000" stroke-width="1.3" />
<text transform="translate(46.39,488.50) rotate(0.03) scale(1.0200,1)" font-size="10.8" stroke="#000" stroke-width="0.3">0</text>
<line x1="54.70" y1="449.30" x2="57.70" y2="449.30" stroke="#000" stroke-width="1.3" />
<text transform="translate(46.39,453.80) rotate(0.03) scale(1.0200,1)" font-size="10.8" stroke="#000" stroke-width="0.3">1</text>
<line x1="54.70" y1="414.60" x2="57.70" y2="414.60" stroke="#000" stroke-width="1.3" />
<text transform="translate(46.39,419.10) rotate(0.03) scale(1.0200,1)" font-size="10.8" stroke="#000" stroke-width="0.3">2</text>
<line x1="54.70" y1="380.00" x2="57.70" y2="380.00" stroke="#000" stroke-width="1.3" />
<text transform="translate(46.39,384.50) rotate(0.03) scale(1.0200,1)" font-size="10.8" stroke="#000" stroke-width="0.3">3</text>
<line x1="62.20" y1="471.10" x2="79.60" y2="471.10" stroke="#000" stroke-width="1.3" />
<line x1="81.80" y1="482.90" x2="99.20" y2="482.90" stroke="#000" stroke-width="1.3" />
<line x1="114.50" y1="448.80" x2="131.90" y2="448.80" stroke="#000" stroke-width="1.3" />
<line x1="134.00" y1="473.40" x2="151.40" y2="473.40" stroke="#000" stroke-width="1.3" />
<line x1="172.90" y1="458.90" x2="190.30" y2="458.90" stroke="#000" stroke-width="1.3" />
<line x1="193.00" y1="479.80" x2="210.40" y2="479.80" stroke="#000" stroke-width="1.3" />
<text transform="translate(75.00,498.30) rotate(0.03) scale(0.8234,1)" font-size="11.6" stroke="#000" stroke-width="0.3">BL</text>
<text transform="translate(121.20,498.30) rotate(0.03) scale(1.0105,1)" font-size="11.6" stroke="#000" stroke-width="0.3">mo3</text>
<text transform="translate(181.20,498.30) rotate(0.03) scale(0.9187,1)" font-size="11.6" stroke="#000" stroke-width="0.3">HD</text>
<text transform="translate(66.53,402.70) rotate(0.03) scale(0.9342,1)" font-size="9.8" font-style="italic" stroke="#000" stroke-width="0.2">p=0.001</text>
<text transform="translate(118.63,366.20) rotate(0.03) scale(0.9370,1)" font-size="9.8" font-style="italic" stroke="#000" stroke-width="0.2">p=0.002</text>
<text transform="translate(177.83,414.90) rotate(0.03) scale(0.9287,1)" font-size="9.8" font-style="italic" stroke="#000" stroke-width="0.2">p=0.031</text>
<text transform="translate(77.61,420.76) rotate(0.03)" font-size="15.0" fill="#222">*</text>
<text transform="translate(130.11,384.36) rotate(0.03)" font-size="15.0" fill="#222">*</text>
<text transform="translate(189.21,432.26) rotate(0.03)" font-size="15.0" fill="#222">*</text>
<text transform="translate(0.80,369.60) rotate(0.03) scale(0.8897,1)" font-size="24" font-weight="bold" stroke="#000" stroke-width="0.3">E</text>
<g transform="translate(21.50,482.20) rotate(-89.97) scale(1.0655,1)"><text x="0.00" y="0.00" font-size="11.6" stroke="#000" stroke-width="0.3">% IL-17 producing</text></g>
<g transform="translate(34.30,464.20) rotate(-89.97) scale(1.0112,1)"><text x="0.00" y="0.00" font-size="11.6" stroke="#000" stroke-width="0.3">CD4</text><text x="23.21" y="-3.80" font-size="8.5" stroke="#000" stroke-width="0.3">+</text><text x="31.39" y="0.00" font-size="11.6" stroke="#000" stroke-width="0.3">T cells</text></g>
<line x1="466.70" y1="25.00" x2="480.00" y2="25.00" stroke="#000" stroke-width="1.3" />
<circle cx="473.5" cy="25" r="3.2" fill="none" stroke="#111" stroke-width="1.3"/>
<line x1="466.70" y1="39.40" x2="480.00" y2="39.40" stroke="#000" stroke-width="1.3" />
<circle cx="473.7" cy="39.4" r="3.5" fill="#000"/>
<text transform="translate(487.50,29.00) rotate(0.03) scale(0.7625,1)" font-size="14.7" stroke="#000" stroke-width="0.3">PD1</text>
<text transform="translate(487.50,44.20) rotate(0.03) scale(0.7625,1)" font-size="14.7" stroke="#000" stroke-width="0.3">PD1</text>
<text transform="translate(512.30,23.00) rotate(0.03) scale(0.6648,1)" font-size="9" stroke="#000" stroke-width="0.3">−</text>
<text transform="translate(513.20,38.90) rotate(0.03) scale(0.9768,1)" font-size="10.5" stroke="#000" stroke-width="0.3">+</text>
</g>
</svg>
</body></html>
